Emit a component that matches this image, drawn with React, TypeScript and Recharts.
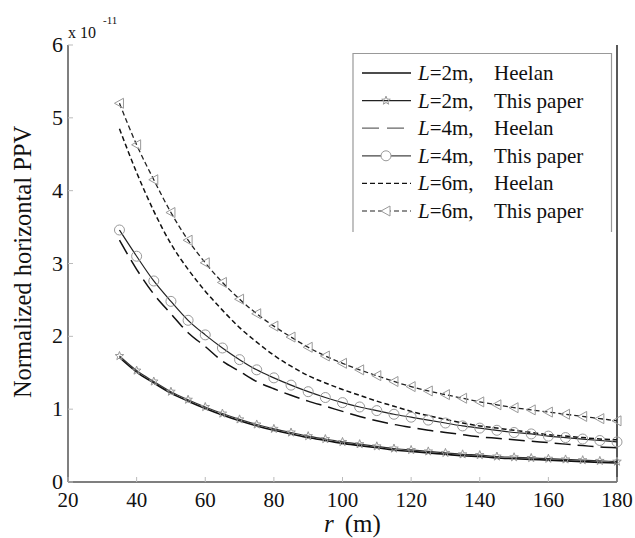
import { LineChart, Line, XAxis, YAxis, Legend } from 'recharts';

const rValues = [35, 40, 45, 50, 55, 60, 65, 70, 75, 80, 85, 90, 95, 100, 105, 110, 115, 120, 125, 130, 135, 140, 145, 150, 155, 160, 165, 170, 175, 180];

// values in units of 1e-11
const l2Heelan = [1.71, 1.51, 1.36, 1.22, 1.11, 1.01, 0.92, 0.84, 0.77, 0.71, 0.66, 0.61, 0.57, 0.53, 0.50, 0.47, 0.44, 0.42, 0.40, 0.38, 0.36, 0.35, 0.33, 0.32, 0.31, 0.30, 0.29, 0.28, 0.27, 0.26];
const l2Paper = [1.73, 1.53, 1.38, 1.24, 1.13, 1.03, 0.94, 0.86, 0.79, 0.73, 0.68, 0.63, 0.59, 0.55, 0.52, 0.49, 0.46, 0.44, 0.42, 0.40, 0.38, 0.37, 0.35, 0.34, 0.33, 0.32, 0.31, 0.30, 0.29, 0.28];
const l4Heelan = [3.32, 2.92, 2.58, 2.31, 2.05, 1.86, 1.66, 1.52, 1.38, 1.28, 1.19, 1.11, 1.04, 0.97, 0.90, 0.84, 0.79, 0.75, 0.71, 0.68, 0.65, 0.62, 0.60, 0.58, 0.56, 0.54, 0.52, 0.50, 0.48, 0.47];
const l4Paper = [3.46, 3.10, 2.76, 2.48, 2.22, 2.02, 1.84, 1.68, 1.54, 1.43, 1.33, 1.24, 1.16, 1.09, 1.03, 0.98, 0.93, 0.89, 0.85, 0.81, 0.77, 0.74, 0.71, 0.68, 0.66, 0.63, 0.61, 0.59, 0.57, 0.55];
const l6Heelan = [4.85, 4.25, 3.72, 3.27, 2.92, 2.62, 2.36, 2.12, 1.92, 1.74, 1.59, 1.46, 1.36, 1.27, 1.19, 1.11, 1.04, 0.97, 0.91, 0.86, 0.81, 0.77, 0.74, 0.71, 0.68, 0.65, 0.63, 0.61, 0.59, 0.58];
const l6Paper = [5.20, 4.63, 4.15, 3.70, 3.32, 3.01, 2.74, 2.51, 2.31, 2.14, 1.99, 1.85, 1.73, 1.63, 1.54, 1.46, 1.38, 1.31, 1.25, 1.20, 1.15, 1.10, 1.06, 1.02, 0.99, 0.96, 0.93, 0.90, 0.87, 0.84];

const xTicks = [20, 40, 60, 80, 100, 120, 140, 160, 180];
const yTicks = [0, 1, 2, 3, 4, 5, 6];

const legendRows = [
  { len: '2m,', name: 'Heelan', key: 'l2h' },
  { len: '2m,', name: 'This paper', key: 'l2p' },
  { len: '4m,', name: 'Heelan', key: 'l4h' },
  { len: '4m,', name: 'This paper', key: 'l4p' },
  { len: '6m,', name: 'Heelan', key: 'l6h' },
  { len: '6m,', name: 'This paper', key: 'l6p' },
];

const data = rValues.map((r, i) => ({
  r,
  l2h: l2Heelan[i],
  l2p: l2Paper[i],
  l4h: l4Heelan[i],
  l4p: l4Paper[i],
  l6h: l6Heelan[i],
  l6p: l6Paper[i],
}));

const FONT = "'Liberation Serif', 'DejaVu Serif', 'Times New Roman', Times, serif";
const txt = { fontFamily: FONT };
const AXIS = '#555';
const MARK = '#999';

const starPoints = (cx: number, cy: number) => {
  const pts = [];
  for (let k = 0; k < 10; k++) {
    const a = (-90 + k * 36) * Math.PI / 180;
    const rad = k % 2 === 0 ? 4.5 : 1.9;
    pts.push(`${cx + rad * Math.cos(a)},${cy + rad * Math.sin(a)}`);
  }
  return pts.join(' ');
};

const StarDot = (props: any) => {
  const { cx, cy, index } = props;
  return <polygon key={`s-${index}`} points={starPoints(cx, cy)} fill="none" stroke={MARK} strokeWidth={1} />;
};

const CircleDot = (props: any) => {
  const { cx, cy, index } = props;
  return <circle key={`c-${index}`} cx={cx} cy={cy} r={5} fill="none" stroke={MARK} strokeWidth={1} />;
};

const TriDot = (props: any) => {
  const { cx, cy, index } = props;
  return (
    <polygon
      key={`t-${index}`}
      points={`${cx - 5},${cy} ${cx + 4},${cy - 5} ${cx + 4},${cy + 5}`}
      fill="none"
      stroke={MARK}
      strokeWidth={1}
    />
  );
};

const BottomTick = ({ x, y, payload }: any) => (
  <g>
    <line x1={x} x2={x} y1={y} y2={y - 5} stroke="#bbb" />
    <text x={x} y={y + 25} textAnchor="middle" style={txt} fontSize={21} fill="#111">{payload.value}</text>
  </g>
);

const TopTick = ({ x, y }: any) => <line x1={x} x2={x} y1={y} y2={y + 5} stroke="#bbb" />;

const LeftTick = ({ x, y, payload }: any) => (
  <g>
    <line x1={x} x2={x + 5} y1={y} y2={y} stroke="#bbb" />
    <text x={x - 5} y={y + 7} textAnchor="end" style={txt} fontSize={22} fill="#111">{payload.value}</text>
  </g>
);

const RightTick = ({ x, y }: any) => <line x1={x} x2={x - 5} y1={y} y2={y} stroke="#bbb" />;

const sample = (key: string) => {
  const y = 0;
  switch (key) {
    case 'l2h':
      return <line x1={10} x2={59} y1={y} y2={y} stroke="#111" strokeWidth={1.3} />;
    case 'l2p':
      return (
        <g>
          <line x1={10} x2={59} y1={y} y2={y} stroke="#222" strokeWidth={1.2} />
          <polygon points={starPoints(34, y)} fill="none" stroke={MARK} />
        </g>
      );
    case 'l4h':
      return <line x1={10} x2={59} y1={y} y2={y} stroke="#666" strokeWidth={1.3} strokeDasharray="17 8" />;
    case 'l4p':
      return (
        <g>
          <line x1={10} x2={59} y1={y} y2={y} stroke="#444" strokeWidth={1.2} />
          <circle cx={34} cy={y} r={5} fill="#fff" stroke={MARK} />
        </g>
      );
    case 'l6h':
      return <line x1={10} x2={59} y1={y} y2={y} stroke="#111" strokeWidth={1.3} strokeDasharray="5 3" />;
    default:
      return (
        <g>
          <line x1={10} x2={59} y1={y} y2={y} stroke="#222" strokeWidth={1.2} strokeDasharray="5 3" />
          <polygon points={`29,${y} 38,${y - 5} 38,${y + 5}`} fill="#fff" stroke={MARK} />
        </g>
      );
  }
};

const renderLegend = () => (
  <svg width={262} height={180} style={{ display: 'block' }}>
    <path d="M1,180 V1.5 H259.5 V180" fill="none" stroke="#999" strokeWidth={1.2} />
    {legendRows.map((row, i) => {
      const cy = 21 + i * 27.6;
      return (
        <g key={row.key} transform={`translate(0,${cy})`}>
          {sample(row.key)}
          <text x={66} y={7} style={txt} fontSize={21} fill="#111">
            <tspan fontStyle="italic">L</tspan>
            <tspan>={row.len}</tspan>
            <tspan x={142}>{row.name}</tspan>
          </text>
        </g>
      );
    })}
  </svg>
);

export default function App() {
  return (
    <div style={{ position: 'absolute', left: 0, top: 0, width: 635, height: 538, background: '#fff', fontFamily: FONT }}>
      <LineChart width={635} height={538} data={data} margin={{ top: 45, right: 0, bottom: 0, left: 0 }}>
        <XAxis
          dataKey="r"
          type="number"
          domain={[20, 180]}
          ticks={xTicks}
          height={56}
          tickSize={0}
          tickMargin={0}
          tick={<BottomTick />}
          axisLine={{ stroke: AXIS, strokeWidth: 1.5 }}
          interval={0}
        />
        <XAxis
          xAxisId="top"
          dataKey="r"
          type="number"
          orientation="top"
          domain={[20, 180]}
          ticks={xTicks}
          height={0}
          tickSize={0}
          tickMargin={0}
          tick={<TopTick />}
          axisLine={{ stroke: AXIS, strokeWidth: 1.5 }}
          interval={0}
        />
        <YAxis
          type="number"
          domain={[0, 6]}
          ticks={yTicks}
          width={68}
          tickSize={0}
          tickMargin={0}
          tick={<LeftTick />}
          axisLine={{ stroke: AXIS, strokeWidth: 1.5 }}
          interval={0}
        />
        <YAxis
          yAxisId="right"
          orientation="right"
          type="number"
          domain={[0, 6]}
          ticks={yTicks}
          width={18}
          tickSize={0}
          tickMargin={0}
          tick={<RightTick />}
          axisLine={{ stroke: '#222', strokeWidth: 1.5 }}
          interval={0}
        />
        <Legend
          content={renderLegend}
          layout="horizontal"
          verticalAlign="middle"
          align="center"
          wrapperStyle={{ left: 352, top: 52, width: 262, height: 180 }}
        />
        <Line type="monotone" dataKey="l2h" stroke="#111" strokeWidth={1.6} dot={false} isAnimationActive={false} />
        <Line type="monotone" dataKey="l2p" stroke="#333" strokeWidth={1.2} dot={StarDot} isAnimationActive={false} />
        <Line type="monotone" dataKey="l4h" stroke="#111" strokeWidth={1.5} strokeDasharray="16 7" dot={false} isAnimationActive={false} />
        <Line type="monotone" dataKey="l4p" stroke="#222" strokeWidth={1.2} dot={CircleDot} isAnimationActive={false} />
        <Line type="monotone" dataKey="l6h" stroke="#111" strokeWidth={1.5} strokeDasharray="5 3" dot={false} isAnimationActive={false} />
        <Line type="monotone" dataKey="l6p" stroke="#222" strokeWidth={1.3} strokeDasharray="5 3" dot={TriDot} isAnimationActive={false} />
      </LineChart>
      <svg width={635} height={538} style={{ position: 'absolute', left: 0, top: 0, pointerEvents: 'none' }}>
        <text x={68} y={38} style={txt} fontSize={16} fill="#111">x 10</text>
        <text x={103} y={24} style={txt} fontSize={11} fill="#111">-11</text>
        <text
          x={31}
          y={262}
          transform="rotate(-90, 31, 262)"
          textAnchor="middle"
          style={txt}
          fontSize={24.5}
          fill="#111"
        >
          Normalized horizontal PPV
        </text>
        <text x={324} y={532} style={txt} fontSize={25} fill="#111">
          <tspan fontStyle="italic">r</tspan>
          <tspan dx={11}>(m)</tspan>
        </text>
      </svg>
    </div>
  );
}
